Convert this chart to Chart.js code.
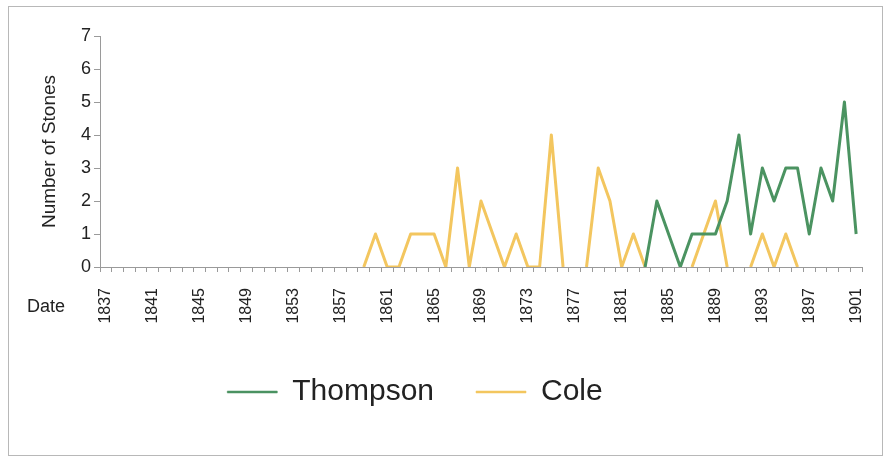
<!DOCTYPE html>
<html>
<head>
<meta charset="utf-8">
<script src="https://cdn.jsdelivr.net/npm/chart.js@4.4.1/dist/chart.umd.min.js"></script>
<style>
  html, body { margin: 0; padding: 0; background: #fff; }
  #wrap { width: 885px; height: 460px; }
</style>
</head>
<body>
<div id="wrap"><canvas id="stonesChart" width="885" height="460"></canvas></div>
<script>
// years on the x axis
const years = [
  '1837','1838','1839','1840','1841','1842','1843','1844','1845','1846',
  '1847','1848','1849','1850','1851','1852','1853','1854','1855','1856',
  '1857','1858','1859','1860','1861','1862','1863','1864','1865','1866',
  '1867','1868','1869','1870','1871','1872','1873','1874','1875','1876',
  '1877','1878','1879','1880','1881','1882','1883','1884','1885','1886',
  '1887','1888','1889','1890','1891','1892','1893','1894','1895','1896',
  '1897','1898','1899','1900','1901'
];

// Thompson: no data before 1883
const thompson = [
  null,null,null,null,null,null,null,null,null,null,
  null,null,null,null,null,null,null,null,null,null,
  null,null,null,null,null,null,null,null,null,null,
  null,null,null,null,null,null,null,null,null,null,
  null,null,null,null,null,null,0,2,1,0,
  1,1,1,2,4,1,3,2,3,3,
  1,3,2,5,1
];

// Cole: 1859 - 1896, with gaps
const cole = [
  null,null,null,null,null,null,null,null,null,null,
  null,null,null,null,null,null,null,null,null,null,
  null,null,0,1,0,0,1,1,1,0,
  3,0,2,1,0,1,0,0,4,0,
  null,0,3,2,0,1,0,null,null,null,
  0,1,2,0,null,0,1,0,1,0,
  null,null,null,null,null
];

const yTicks = [0, 1, 2, 3, 4, 5, 6, 7];

const greenCol = '#4b9361';
const yellowCol = '#f3c65f';
const axisCol = '#9a9a9a';
const textCol = '#222';
const fontName = '"Liberation Sans", Arial, sans-serif';

// 外枠・「Date」ラベル・凡例の位置調整
const framePlugin = {
  id: 'frame',
  afterLayout(chart) {
    // 凡例は少し左寄り
    chart.legend.left -= 33;
    chart.legend.right -= 33;
  },
  beforeDraw(chart) {
    const c = chart.ctx;
    c.save();
    c.fillStyle = '#fff';
    c.fillRect(0, 0, chart.width, chart.height);
    c.strokeStyle = '#b8b8b8';
    c.lineWidth = 1;
    c.strokeRect(8.5, 6.5, 874, 449);
    c.restore();
  },
  afterDraw(chart) {
    const c = chart.ctx;
    const xs = chart.scales.x;
    c.save();
    c.font = '18px ' + fontName;
    c.fillStyle = textCol;
    c.textAlign = 'center';
    c.textBaseline = 'middle';
    c.fillText('Date', 46, xs.top + 40);
    c.restore();
  }
};

new Chart(document.getElementById('stonesChart'), {
  type: 'line',
  data: {
    labels: years,
    datasets: [
      {
        label: 'Thompson',
        data: thompson,
        borderColor: greenCol,
        backgroundColor: greenCol,
        borderWidth: 3,
        borderJoinStyle: 'round',
        pointRadius: 0,
        tension: 0,
        spanGaps: false
      },
      {
        label: 'Cole',
        data: cole,
        borderColor: yellowCol,
        backgroundColor: yellowCol,
        borderWidth: 3,
        borderJoinStyle: 'round',
        pointRadius: 0,
        tension: 0,
        spanGaps: false
      }
    ]
  },
  options: {
    responsive: false,
    animation: false,
    layout: {
      padding: { left: 34, right: 23, top: 36, bottom: 43 }
    },
    plugins: {
      tooltip: { enabled: false },
      legend: {
        position: 'bottom',
        labels: {
          boxWidth: 50,
          boxHeight: 2,
          padding: 42,
          color: textCol,
          font: { family: fontName, size: 30 },
          // 凡例の線は細め
          generateLabels: chart => Chart.defaults.plugins.legend.labels.generateLabels(chart)
            .map(item => Object.assign(item, { lineWidth: 0.5 }))
        }
      }
    },
    scales: {
      x: {
        type: 'category',
        offset: true,
        afterFit: scale => {
          scale.height = 68;
          scale.paddingLeft = 0;
          scale.paddingRight = 0;
        },
        border: { color: axisCol, width: 1 },
        grid: {
          display: true,
          offset: true,
          drawOnChartArea: false,
          color: axisCol,
          tickLength: 5
        },
        ticks: {
          autoSkip: false,
          minRotation: 90,
          maxRotation: 90,
          padding: 16,
          color: textCol,
          font: { family: fontName, size: 16 },
          callback: function (val, i) { return i % 4 === 0 ? this.getLabelForValue(val) : ''; }
        }
      },
      y: {
        min: 0,
        max: 7,
        afterFit: scale => { scale.width = 66; },
        afterBuildTicks: scale => { scale.ticks = yTicks.map(v => ({ value: v })); },
        border: { color: axisCol, width: 1 },
        grid: {
          drawOnChartArea: false,
          color: axisCol,
          tickLength: 6
        },
        ticks: {
          padding: 3,
          color: textCol,
          font: { family: fontName, size: 18 }
        },
        title: {
          display: true,
          text: 'Number of Stones',
          color: textCol,
          font: { family: fontName, size: 19 },
          padding: { top: 4, bottom: 0 }
        }
      }
    }
  },
  plugins: [framePlugin]
});
</script>
</body>
</html>
